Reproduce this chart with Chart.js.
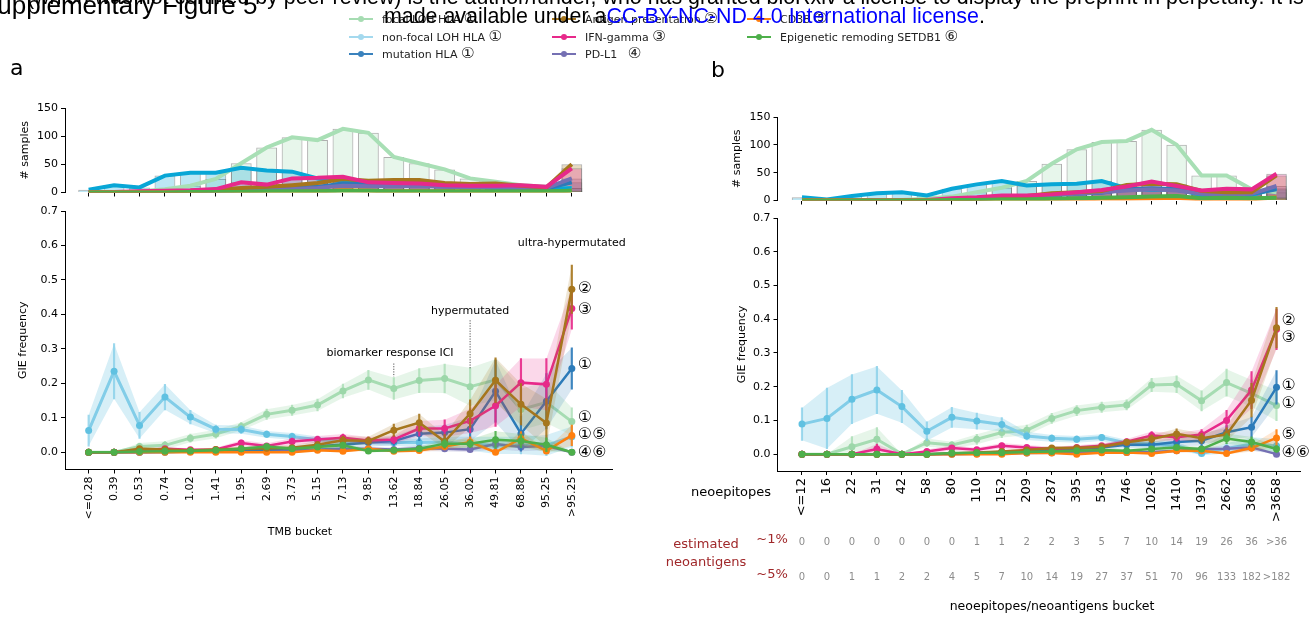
<!DOCTYPE html>
<html>
<head>
<meta charset="utf-8">
<title>GIE frequency by TMB and neoepitope bucket</title>
<script src="https://cdn.jsdelivr.net/npm/chart.js@4.4.1/dist/chart.umd.min.js"></script>
<style>
  html, body { margin:0; padding:0; background:#fff; }
  body { position:relative; width:1311px; height:618px; overflow:hidden; font-family:"DejaVu Sans", sans-serif; }
  canvas { position:absolute; left:0; top:0; }
  .wm { position:absolute; white-space:nowrap; font-family:"Liberation Sans", Arial, sans-serif; font-size:21.4px; line-height:21px; color:#000; }
  .wm .lic { color:#0000ff; }
  .fig-title { position:absolute; white-space:nowrap; font-family:"Liberation Sans", Arial, sans-serif; font-size:26px; line-height:26px; color:#000; }
  .panel { position:absolute; font-size:22px; line-height:22px; color:#000; }
  .lg-text { position:absolute; font-size:11px; line-height:14px; white-space:nowrap; color:#222; }
  .lg-text .c { font-size:15px; font-family:"DejaVu Sans", sans-serif; }
  .lg-line { position:absolute; height:2px; }
  .lg-dot { position:absolute; width:6px; height:6px; border-radius:50%; }
</style>
</head>
<body>
<canvas id="aCounts" width="1311" height="618"></canvas>
<canvas id="aFreq" width="1311" height="618"></canvas>
<canvas id="bCounts" width="1311" height="618"></canvas>
<canvas id="bFreq" width="1311" height="618"></canvas>

<div id="legend"></div>
<div class="panel" style="left:10px; top:57px;">a</div>
<div class="panel" style="left:711px; top:59px;">b</div>

<div class="wm" id="wmTop" style="top:-13px;">(which was not certified <span id="wmBy">by peer review) is the author/funder, who has granted bioRxiv a license to display the preprint in perpetuity. It is</span></div>
<div class="wm" style="left:384px; top:6px;">made available under a<span class="lic">CC-BY-NC-ND 4.0 International license</span>.</div>
<div class="fig-title" style="left:-20px; top:-8px;">Supplementary Figure 5</div>

<script>
// ---------- categories ----------
const tmbBuckets = ["<=0.28","0.39","0.53","0.74","1.02","1.41","1.95","2.69","3.73","5.15",
                    "7.13","9.85","13.62","18.84","26.05","36.02","49.81","68.88","95.25",">95.25"];
const neoBuckets = ["<=12","16","22","31","42","58","80","110","152","209",
                    "287","395","543","746","1026","1410","1937","2662","3658",">3658"];
const countTicks = [0, 25, 50, 75, 100, 125, 150];
const freqTicks  = [0, 0.1, 0.2, 0.3, 0.4, 0.5, 0.6, 0.7];

// estimated neoantigens per neoepitope bucket
const neoantigens1pct = ["0","0","0","0","0","0","0","1","1","2","2","3","5","7","10","14","19","26","36",">36"];
const neoantigens5pct = ["0","0","1","1","2","2","4","5","7","10","14","19","27","37","51","70","96","133","182",">182"];

// ---------- panel a: # samples per TMB bucket ----------
const aCountFocal    = [0,0,2,6,12,24,52,80,98,93,113,106,63,52,41,25,19,13,10,8];
const aCountNonFocal = [5,13,9,30,35,35,44,39,37,25,20,18,15,14,12,10,8,7,6,8];
const aCountMutation = [0,0,1,1,2,3,5,6,8,10,16,14,12,12,11,10,10,8,7,18];
const aCountAntigen  = [0,0,1,2,3,5,8,10,13,17,24,21,22,22,17,15,16,12,9,50];
const aCountIfn      = [0,1,2,3,4,6,18,14,25,26,28,18,17,16,13,12,12,13,10,43];
const aCountPdl1     = [0,0,0,1,1,2,3,4,6,8,12,11,11,11,10,9,9,8,8,25];
const aCountCd38     = [0,0,0,0,0,0,1,1,1,2,4,3,2,2,2,2,1,1,1,3];
const aCountEpig     = [0,0,0,0,1,1,1,2,2,2,3,3,2,2,2,2,2,2,2,3];

// ---------- panel a: GIE frequency (value, CI half-width) ----------
const aFocal       = [0,0,0.017,0.02,0.041,0.053,0.075,0.11,0.122,0.137,0.178,0.21,0.185,0.208,0.214,0.19,0.21,0.124,0.145,0.089];
const aFocalErr    = [0,0,0.01,0.012,0.012,0.012,0.012,0.015,0.015,0.017,0.02,0.028,0.032,0.035,0.042,0.055,0.06,0.06,0.06,0.04];
const aNonFocal    = [0.063,0.235,0.078,0.16,0.102,0.067,0.066,0.052,0.046,0.036,0.032,0.03,0.028,0.028,0.03,0.025,0.02,0.02,0.02,0.045];
const aNonFocalErr = [0.045,0.08,0.038,0.037,0.02,0.012,0.012,0.01,0.01,0.01,0.01,0.008,0.01,0.012,0.015,0.02,0.025,0.025,0.03,0.03];
const aMutation    = [0,0,0,0,0.002,0.003,0.005,0.008,0.012,0.018,0.022,0.028,0.033,0.054,0.057,0.067,0.177,0.054,0.148,0.243];
const aMutationErr = [0,0,0,0,0.003,0.003,0.004,0.005,0.006,0.008,0.01,0.012,0.013,0.02,0.022,0.035,0.09,0.05,0.08,0.06];
const aAntigen     = [0,0,0.01,0.008,0.005,0.008,0.01,0.012,0.013,0.022,0.035,0.033,0.064,0.086,0.031,0.112,0.209,0.139,0.085,0.473];
const aAntigenErr  = [0,0,0.006,0.005,0.004,0.005,0.006,0.006,0.007,0.01,0.012,0.012,0.018,0.025,0.02,0.04,0.065,0.06,0.07,0.07];
const aIfn         = [0,0,0.005,0.01,0.007,0.008,0.027,0.018,0.031,0.037,0.042,0.034,0.037,0.069,0.069,0.091,0.135,0.202,0.197,0.417];
const aIfnErr      = [0,0,0.004,0.006,0.004,0.005,0.008,0.008,0.01,0.01,0.011,0.01,0.012,0.022,0.025,0.035,0.06,0.07,0.075,0.06];
const aPdl1        = [0,0,0,0.002,0.002,0.003,0.004,0.005,0.005,0.008,0.01,0.01,0.008,0.012,0.01,0.008,0.024,0.015,0.018,0];
const aPdl1Err     = [0,0,0,0.002,0.002,0.003,0.003,0.004,0.004,0.005,0.006,0.006,0.006,0.008,0.008,0.008,0.015,0.012,0.012,0];
const aCd38        = [0,0,0,0,0,0,0,0,0,0.006,0.003,0.01,0.003,0.005,0.017,0.03,0,0.04,0.004,0.049];
const aCd38Err     = [0,0,0,0,0,0,0,0,0,0.004,0.003,0.006,0.003,0.005,0.01,0.015,0,0.02,0.005,0.03];
const aEpig        = [0,0,0.002,0.003,0.004,0.006,0.01,0.017,0.01,0.015,0.02,0.004,0.006,0.01,0.025,0.025,0.036,0.033,0.022,0];
const aEpigErr     = [0,0,0.002,0.003,0.003,0.004,0.005,0.007,0.005,0.006,0.008,0.004,0.005,0.007,0.012,0.012,0.025,0.02,0.02,0];

// ---------- panel b: # samples per neoepitope bucket ----------
const bCountFocal    = [0,0,0,1,1,3,7,15,23,35,66,92,105,107,127,100,45,45,20,15];
const bCountNonFocal = [6,2,8,13,15,9,21,29,35,27,29,30,35,22,19,20,10,11,10,22];
const bCountMutation = [0,0,0,0,0,0,2,3,5,7,10,12,14,20,22,20,13,12,12,20];
const bCountAntigen  = [0,0,0,0,0,0,2,3,5,8,13,15,17,28,30,29,17,15,15,45];
const bCountIfn      = [0,0,0,1,0,1,4,6,9,9,11,15,19,25,34,26,18,21,20,48];
const bCountPdl1     = [0,0,0,0,0,0,2,3,5,7,10,12,15,18,20,18,12,11,12,26];
const bCountCd38     = [0,0,0,0,0,0,0,0,1,1,2,2,3,3,4,5,2,2,2,6];
const bCountEpig     = [0,0,0,0,0,0,1,1,2,2,3,4,5,6,7,8,4,5,4,5];

// ---------- panel b: GIE frequency ----------
const bFocal       = [0,0,0.022,0.044,0,0.034,0.027,0.044,0.064,0.071,0.106,0.129,0.139,0.146,0.205,0.207,0.158,0.212,0.18,0.144];
const bFocalErr    = [0,0,0.03,0.035,0,0.012,0.01,0.015,0.015,0.015,0.015,0.015,0.015,0.015,0.02,0.025,0.03,0.04,0.04,0.045];
const bNonFocal    = [0.089,0.106,0.163,0.19,0.141,0.068,0.109,0.098,0.088,0.054,0.047,0.044,0.049,0.033,0.03,0.025,0.002,0.017,0.03,0.025];
const bNonFocalErr = [0.048,0.09,0.073,0.07,0.048,0.028,0.03,0.024,0.02,0.012,0.01,0.01,0.01,0.01,0.01,0.012,0.005,0.015,0.02,0.02];
const bMutation    = [0,0,0,0,0,0,0.002,0.003,0.006,0.008,0.012,0.015,0.02,0.028,0.028,0.036,0.04,0.065,0.08,0.198];
const bMutationErr = [0,0,0,0,0,0,0.002,0.003,0.004,0.005,0.006,0.007,0.008,0.01,0.01,0.012,0.015,0.02,0.03,0.05];
const bAntigen     = [0,0,0,0,0,0,0.002,0.005,0.008,0.012,0.018,0.018,0.022,0.035,0.045,0.06,0.047,0.058,0.16,0.375];
const bAntigenErr  = [0,0,0,0,0,0,0.002,0.003,0.004,0.005,0.006,0.006,0.007,0.008,0.012,0.015,0.015,0.02,0.05,0.06];
const bIfn         = [0,0,0,0.015,0,0.008,0.018,0.013,0.025,0.02,0.016,0.02,0.025,0.037,0.055,0.05,0.058,0.1,0.19,0.37];
const bIfnErr      = [0,0,0,0.015,0,0.006,0.008,0.006,0.008,0.007,0.006,0.006,0.007,0.008,0.012,0.012,0.015,0.03,0.055,0.06];
const bPdl1        = [0,0,0,0,0,0,0,0.001,0.002,0.003,0.004,0.005,0.006,0.005,0.006,0.01,0.015,0.016,0.02,0];
const bPdl1Err     = [0,0,0,0,0,0,0,0.001,0.002,0.002,0.003,0.003,0.003,0.003,0.004,0.005,0.007,0.008,0.01,0];
const bCd38        = [0,0,0,0,0,0,0,0,0,0.003,0.003,0,0.004,0.005,0.002,0.01,0.01,0.002,0.018,0.048];
const bCd38Err     = [0,0,0,0,0,0,0,0,0,0.002,0.002,0,0.003,0.003,0.002,0.005,0.005,0.003,0.01,0.025];
const bEpig        = [0,0,0,0,0,0,0.003,0.004,0.004,0.006,0.008,0.01,0.012,0.01,0.015,0.02,0.015,0.046,0.036,0.015];
const bEpigErr     = [0,0,0,0,0,0,0.002,0.002,0.003,0.003,0.004,0.004,0.005,0.005,0.006,0.007,0.007,0.015,0.015,0.01];

// ---------- styles ----------
const STY = {
  focal:    { label:"focal LOH HLA",               tag:"①", line:"#a6dcb2", point:"#9cd7a9", thick:"#a8dfb5", legend:"#a6dcb2" },
  nonfocal: { label:"non-focal LOH HLA",           tag:"①", line:"#82cde8", point:"#60c1e1", thick:"#08a6d6", legend:"#a4d9ee" },
  mutation: { label:"mutation HLA",                tag:"①", line:"#2c7bb9", point:"#2c7bb9", thick:"#2c7bb9", legend:"#3a82bd" },
  antigen:  { label:"Antigen presentation",        tag:"②", line:"#a6761d", point:"#a6761d", thick:"#a6761d", legend:"#a6761d" },
  ifn:      { label:"IFN-gamma",                   tag:"③", line:"#e7298a", point:"#e7298a", thick:"#e7298a", legend:"#e7298a" },
  pdl1:     { label:"PD-L1\u00a0\u00a0",           tag:"④", line:"#7570b3", point:"#7570b3", thick:"#7570b3", legend:"#7570b3" },
  cd38:     { label:"CD38",                        tag:"⑤", line:"#ff7f0e", point:"#ff7f0e", thick:"#ff7f0e", legend:"#ff7f0e" },
  epig:     { label:"Epigenetic remoding SETDB1",  tag:"⑥", line:"#4daf4a", point:"#4daf4a", thick:"#4daf4a", legend:"#4daf4a" }
};

const W = 1311, H = 618;
const FONT = '"DejaVu Sans", sans-serif';

Chart.defaults.font.family = FONT;
Chart.defaults.font.size = 11;
Chart.defaults.color = '#000';
Chart.defaults.animation = false;
Chart.defaults.responsive = false;
Chart.defaults.events = [];
Chart.defaults.plugins.legend.display = false;
Chart.defaults.plugins.tooltip.enabled = false;

function rgba(hex, a) {
  const n = parseInt(hex.slice(1), 16);
  return `rgba(${n >> 16},${(n >> 8) & 255},${n & 255},${a})`;
}
function xy(arr) { return arr.map((v, i) => ({ x: i, y: v })); }

function drawText(ctx, s, x, y, o = {}) {
  ctx.save();
  ctx.font = o.font || `11px ${FONT}`;
  ctx.fillStyle = o.color || '#000';
  ctx.textAlign = o.align || 'center';
  ctx.textBaseline = o.baseline || 'middle';
  ctx.translate(x, y);
  if (o.rot) ctx.rotate(o.rot);
  ctx.fillText(s, 0, 0);
  ctx.restore();
}
function dottedV(ctx, x, y0, y1) {
  ctx.save();
  ctx.strokeStyle = '#555';
  ctx.lineWidth = 1;
  ctx.setLineDash([1.2, 1.4]);
  ctx.beginPath(); ctx.moveTo(x, y0); ctx.lineTo(x, y1); ctx.stroke();
  ctx.restore();
}

function padFor(area, yW, xH) {
  return { left: area.left - yW, top: area.top, right: W - area.right, bottom: H - area.bottom - xH };
}

function yAxis(min, max, ticks, yW, fmt) {
  return {
    type: 'linear', min, max,
    border: { display: true, color: '#000', width: 1 },
    grid: { display: true, drawOnChartArea: false, drawTicks: true, tickLength: 4, tickColor: '#000' },
    ticks: { padding: 3, color: '#000', font: { size: 11 }, callback: fmt },
    afterBuildTicks: s => { s.ticks = ticks.map(v => ({ value: v })); },
    afterFit: s => { s.width = yW; }
  };
}

const YW = 50;

// ---------- # samples panel ----------
function countChart(id, area, xr, c, notes) {
  const keys = ['focal', 'nonfocal', 'mutation', 'pdl1', 'antigen', 'ifn', 'cd38', 'epig'];
  const ds = [];
  keys.forEach(k => ds.push({
    type: 'bar', data: xy(c[k]),
    backgroundColor: rgba(STY[k].thick, 0.27),
    borderColor: 'rgba(95,95,95,0.5)', borderWidth: 1,
    grouped: false, categoryPercentage: 1, barPercentage: 0.82
  }));
  keys.forEach(k => ds.push({
    type: 'line', data: xy(c[k]),
    borderColor: STY[k].thick, borderWidth: 4, pointRadius: 0, fill: false, tension: 0
  }));
  ds.forEach((d, i) => { d.order = ds.length - i; });
  const xH = 6;
  return new Chart(document.getElementById(id), {
    type: 'bar',
    data: { datasets: ds },
    options: {
      layout: { padding: padFor(area, YW, xH) },
      scales: {
        x: {
          type: 'linear', min: xr[0], max: xr[1], offset: false,
          border: { display: false },
          grid: { display: true, offset: false, drawOnChartArea: false, drawTicks: true, tickLength: 4, tickColor: '#000' },
          ticks: { display: false },
          afterBuildTicks: s => { s.ticks = c.cats.map((_, i) => ({ value: i })); },
          afterFit: s => { s.height = xH; }
        },
        y: yAxis(0, 150, countTicks, YW, v => String(v))
      }
    },
    plugins: [notes]
  });
}

// ---------- GIE frequency panel ----------
function freqChart(id, area, xr, cats, series, tickFont, xH, notes) {
  const order = ['focal', 'nonfocal', 'pdl1', 'mutation', 'cd38', 'ifn', 'antigen', 'epig'];
  const ds = [];
  order.forEach(k => {
    const s = STY[k], v = series[k][0], e = series[k][1];
    const soft = (k === 'focal' || k === 'nonfocal');
    ds.push({ type: 'line', data: xy(v.map((p, i) => p - e[i])), borderWidth: 0, pointRadius: 0, fill: false });
    ds.push({ type: 'line', data: xy(v.map((p, i) => p + e[i])), borderWidth: 0, pointRadius: 0,
              fill: '-1', backgroundColor: rgba(soft ? s.point : s.line, soft ? 0.25 : 0.18) });
    ds.push({ type: 'bar', data: v.map((p, i) => ({ x: i, y: [p - e[i], p + e[i]] })),
              backgroundColor: rgba(s.line, soft ? 0.75 : 0.9), barThickness: 1.5, grouped: false, borderWidth: 0 });
    ds.push({ type: 'line', data: xy(v), borderColor: s.line, borderWidth: soft ? 3 : 2.5,
              pointRadius: 3.5, pointBorderWidth: 0, pointBackgroundColor: s.point, fill: false, tension: 0 });
  });
  ds.forEach((d, i) => { d.order = ds.length - i; });
  return new Chart(document.getElementById(id), {
    type: 'line',
    data: { datasets: ds },
    options: {
      layout: { padding: padFor(area, YW, xH) },
      scales: {
        x: {
          type: 'linear', min: xr[0], max: xr[1], offset: false,
          border: { display: true, color: '#000', width: 1 },
          grid: { display: true, offset: false, drawOnChartArea: false, drawTicks: true, tickLength: 4, tickColor: '#000' },
          ticks: { autoSkip: false, minRotation: 90, maxRotation: 90, padding: 3, color: '#000',
                   font: { size: tickFont }, callback: v => cats[v] },
          afterBuildTicks: s => { s.ticks = cats.map((_, i) => ({ value: i })); },
          afterFit: s => { s.height = xH; }
        },
        y: yAxis(-0.05, 0.7, freqTicks, YW, v => v.toFixed(1))
      }
    },
    plugins: [notes]
  });
}

// circled tags next to the last bucket
function endTags(ctx, x, y, tags, dx) {
  const left = x.getPixelForValue(19) + dx;
  tags.forEach(t => drawText(ctx, t[1], left, y.getPixelForValue(t[0]), { font: `16px ${FONT}`, align: 'left' }));
}

// ---------- panel a ----------
const aArea = { count: { left: 65, right: 612, top: 108, bottom: 192.5 },
                freq:  { left: 65, right: 612, top: 211, bottom: 469.5 } };
const aRange = [-0.93, 20.58];

countChart('aCounts', aArea.count, aRange, {
  cats: tmbBuckets, focal: aCountFocal, nonfocal: aCountNonFocal, mutation: aCountMutation,
  antigen: aCountAntigen, ifn: aCountIfn, pdl1: aCountPdl1, cd38: aCountCd38, epig: aCountEpig
}, {
  id: 'aCountNotes',
  afterDraw(chart) {
    const { ctx, scales: { y } } = chart;
    drawText(ctx, '# samples', 25, (y.top + y.bottom) / 2, { rot: -Math.PI / 2 });
  }
});

freqChart('aFreq', aArea.freq, aRange, tmbBuckets, {
  focal: [aFocal, aFocalErr], nonfocal: [aNonFocal, aNonFocalErr], mutation: [aMutation, aMutationErr],
  antigen: [aAntigen, aAntigenErr], ifn: [aIfn, aIfnErr], pdl1: [aPdl1, aPdl1Err],
  cd38: [aCd38, aCd38Err], epig: [aEpig, aEpigErr]
}, 11, 62, {
  id: 'aFreqNotes',
  afterDraw(chart) {
    const { ctx, scales: { x, y } } = chart;
    drawText(ctx, 'GIE frequency', 23, (y.top + y.bottom) / 2, { rot: -Math.PI / 2 });
    drawText(ctx, 'TMB bucket', 300, 532);
    // TMB thresholds
    dottedV(ctx, x.getPixelForValue(12), y.getPixelForValue(0.2575), y.getPixelForValue(0.219));
    drawText(ctx, 'biomarker response ICI', x.getPixelForValue(11.85), y.getPixelForValue(0.287));
    dottedV(ctx, x.getPixelForValue(15), y.getPixelForValue(0.383), y.getPixelForValue(0.243));
    drawText(ctx, 'hypermutated', x.getPixelForValue(15), y.getPixelForValue(0.41));
    drawText(ctx, 'ultra-hypermutated', x.getPixelForValue(19), y.getPixelForValue(0.606));
    endTags(ctx, x, y, [[0.475, '②'], [0.414, '③'], [0.253, '①'], [0.10, '①'], [0.05, '①⑤'], [-0.002, '④⑥']], 6);
  }
});

// ---------- panel b ----------
const bArea = { count: { left: 777.5, right: 1300, top: 117, bottom: 200.5 },
                freq:  { left: 777.5, right: 1300, top: 218, bottom: 471 } };
const bRange = [-0.98, 19.94];

countChart('bCounts', bArea.count, bRange, {
  cats: neoBuckets, focal: bCountFocal, nonfocal: bCountNonFocal, mutation: bCountMutation,
  antigen: bCountAntigen, ifn: bCountIfn, pdl1: bCountPdl1, cd38: bCountCd38, epig: bCountEpig
}, {
  id: 'bCountNotes',
  afterDraw(chart) {
    const { ctx, scales: { y } } = chart;
    drawText(ctx, '# samples', 737, (y.top + y.bottom) / 2, { rot: -Math.PI / 2 });
  }
});

freqChart('bFreq', bArea.freq, bRange, neoBuckets, {
  focal: [bFocal, bFocalErr], nonfocal: [bNonFocal, bNonFocalErr], mutation: [bMutation, bMutationErr],
  antigen: [bAntigen, bAntigenErr], ifn: [bIfn, bIfnErr], pdl1: [bPdl1, bPdl1Err],
  cd38: [bCd38, bCd38Err], epig: [bEpig, bEpigErr]
}, 13, 62, {
  id: 'bFreqNotes',
  afterDraw(chart) {
    const { ctx, scales: { x, y } } = chart;
    drawText(ctx, 'GIE frequency', 742, (y.top + y.bottom) / 2, { rot: -Math.PI / 2 });
    drawText(ctx, 'neoepitopes', 731, 493, { font: `13px ${FONT}` });
    const red = '#a0282a';
    drawText(ctx, 'estimated', 706, 545, { font: `13px ${FONT}`, color: red });
    drawText(ctx, 'neoantigens', 706, 563, { font: `13px ${FONT}`, color: red });
    drawText(ctx, '~1%', 772, 540, { font: `13px ${FONT}`, color: red });
    drawText(ctx, '~5%', 772, 575, { font: `13px ${FONT}`, color: red });
    neoBuckets.forEach((_, i) => {
      const px = x.getPixelForValue(i);
      drawText(ctx, neoantigens1pct[i], px, 542, { font: `10px ${FONT}`, color: '#8c8c8c' });
      drawText(ctx, neoantigens5pct[i], px, 577, { font: `10px ${FONT}`, color: '#8c8c8c' });
    });
    drawText(ctx, 'neoepitopes/neoantigens bucket', 1052, 607, { font: `12.5px ${FONT}` });
    endTags(ctx, x, y, [[0.396, '②'], [0.345, '③'], [0.203, '①'], [0.149, '①'], [0.056, '⑤'], [0.005, '④⑥']], 5);
  }
});

// ---------- legend ----------
const legendCols = [
  { x: 349, keys: ['focal', 'nonfocal', 'mutation'] },
  { x: 552, keys: ['antigen', 'ifn', 'pdl1'] },
  { x: 747, keys: ['cd38', 'epig'] }
];
const legendRows = [19, 37, 54];
const lg = document.getElementById('legend');
legendCols.forEach(col => col.keys.forEach((k, r) => {
  const cy = legendRows[r], s = STY[k];
  const line = document.createElement('div');
  line.className = 'lg-line';
  Object.assign(line.style, { left: col.x + 'px', top: (cy - 1) + 'px', width: '24px', background: s.legend });
  const dot = document.createElement('div');
  dot.className = 'lg-dot';
  Object.assign(dot.style, { left: (col.x + 9) + 'px', top: (cy - 3) + 'px', background: s.legend });
  const t = document.createElement('div');
  t.className = 'lg-text';
  t.style.left = (col.x + 33) + 'px';
  t.style.top = (cy - 8) + 'px';
  t.innerHTML = s.label + ' <span class="c">' + s.tag + '</span>';
  lg.appendChild(line); lg.appendChild(dot); lg.appendChild(t);
}));

// align the preprint banner so "by peer review)" sits after the figure title
const wmTop = document.getElementById('wmTop');
wmTop.style.left = (255 - document.getElementById('wmBy').offsetLeft) + 'px';
</script>
</body>
</html>
